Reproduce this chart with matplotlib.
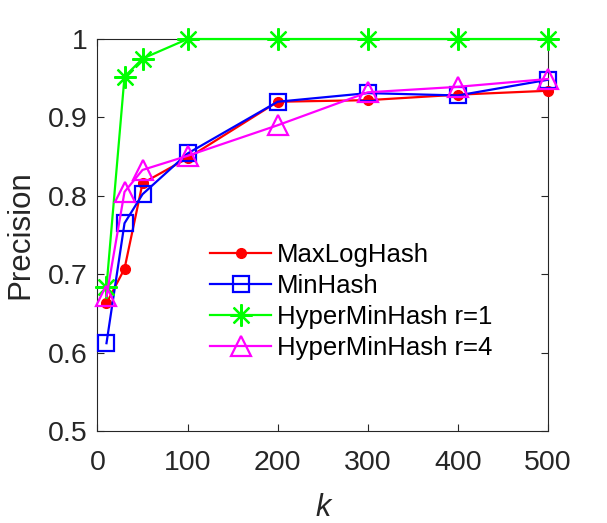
import numpy as np
import matplotlib.pyplot as plt

plt.rcParams['font.family'] = ['Liberation Sans', 'DejaVu Sans']

k = [10, 30, 50, 100, 200, 300, 400, 500]
maxloghash = [0.663, 0.707, 0.816, 0.848, 0.920, 0.922, 0.929, 0.934]
minhash = [0.612, 0.765, 0.802, 0.854, 0.920, 0.931, 0.928, 0.948]
hyper_r1 = [0.684, 0.952, 0.975, 1.0, 1.0, 1.0, 1.0, 1.0]
hyper_r4 = [0.672, 0.805, 0.833, 0.851, 0.890, 0.932, 0.939, 0.949]

fig = plt.figure(figsize=(6.07, 5.23), dpi=100)
ax = fig.add_axes([0.1606, 0.1759, 0.742, 0.7495])

lw = 1.6
ax.plot(k, maxloghash, '-', color='#ff0000', marker='o', markersize=7, lw=lw,
        label='MaxLogHash', clip_on=False, zorder=3)
ax.plot(k, minhash, '-', color='#0000ff', marker='s', markersize=12, lw=lw,
        markerfacecolor='none', markeredgewidth=1.6, label='MinHash', clip_on=False, zorder=3)
ax.plot(k, hyper_r1, '-', color='#00ff00', marker=(8, 2, 0), markersize=16, lw=lw,
        markeredgewidth=1.6, label='HyperMinHash r=1', clip_on=False, zorder=3)
ax.plot(k, hyper_r4, '-', color='#ff00ff', marker='^', markersize=15, lw=lw,
        markerfacecolor='none', markeredgewidth=1.6, label='HyperMinHash r=4', clip_on=False, zorder=3)

ax.set_xlim(0, 500)
ax.set_ylim(0.5, 1.0)
ax.set_xticks([0, 100, 200, 300, 400, 500])
ax.set_yticks([0.5, 0.6, 0.7, 0.8, 0.9, 1.0])
ax.set_yticklabels(['0.5', '0.6', '0.7', '0.8', '0.9', '1'])

dark = '#262626'
for s in ax.spines.values():
    s.set_color(dark)
    s.set_linewidth(0.8)
ax.tick_params(direction='in', top=True, right=True, length=5, width=0.8,
               labelsize=20.5, colors=dark, pad=7)
ax.tick_params(axis='x', pad=14)

ax.set_xlabel('k', fontsize=22, style='italic', color=dark, labelpad=12)
ax.set_ylabel('Precision', fontsize=22.5, color=dark, labelpad=9)

leg = ax.legend(loc='lower left', bbox_to_anchor=(0.25, 0.18), frameon=False,
                fontsize=18.5, handlelength=2.37, handletextpad=0.23,
                labelspacing=0.28, borderpad=0, borderaxespad=0)

fig.savefig('out.png', dpi=100)
